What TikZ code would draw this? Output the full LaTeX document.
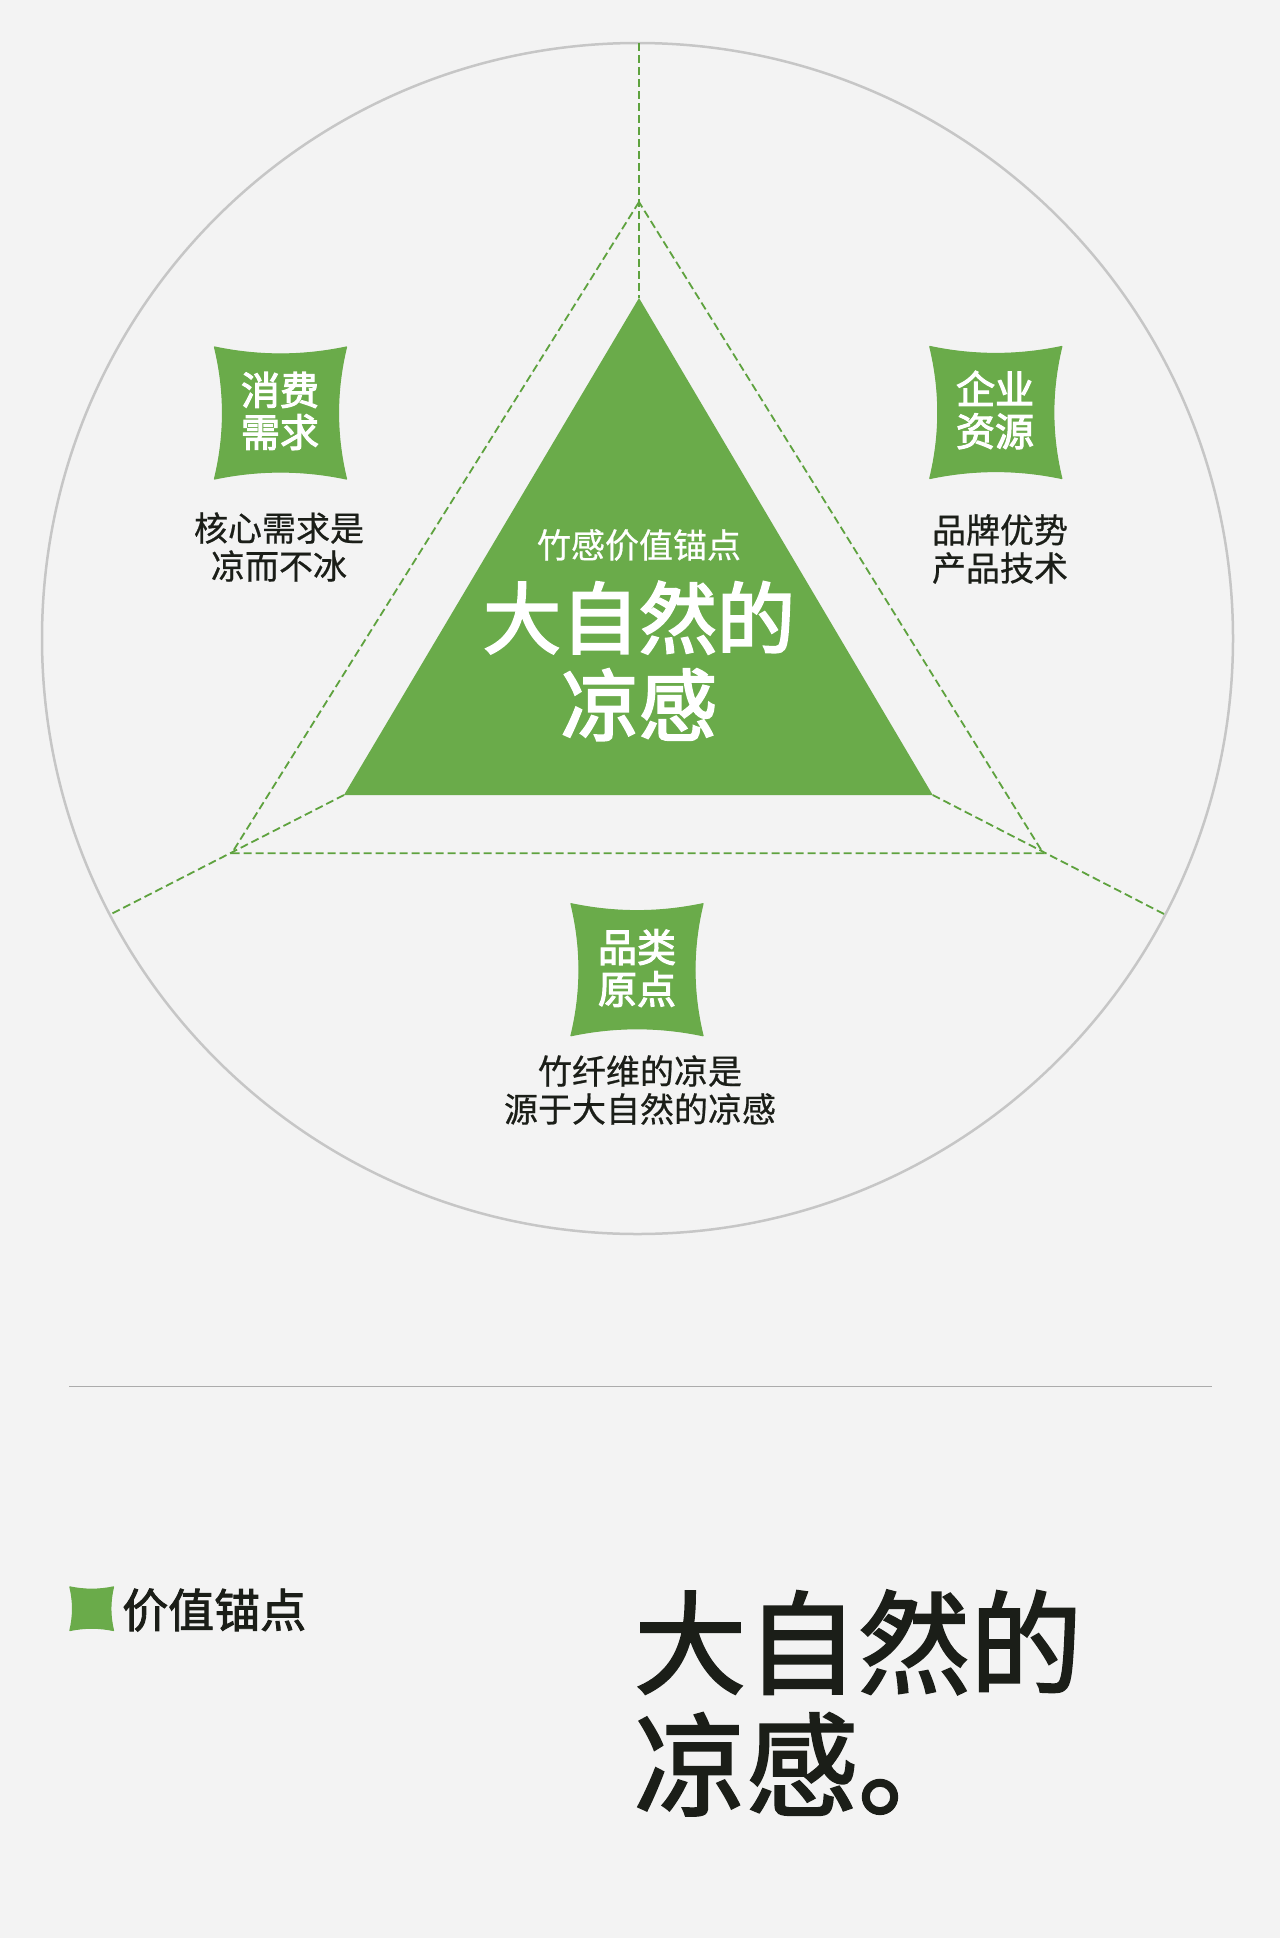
\documentclass[tikz,border=0pt]{standalone}
\usepackage{fontspec}
\setmainfont{Noto Sans CJK SC}
\newfontfamily\semib[FakeBold=2]{Noto Sans CJK SC}
\newfontfamily\semid[FakeBold=2.8]{Noto Sans CJK SC}
\newfontfamily\semic[FakeBold=0.6]{Noto Sans CJK SC}
\definecolor{bg}{HTML}{F3F3F3}
\definecolor{leaf}{HTML}{6AAB4A}
\definecolor{dashg}{HTML}{5EA23E}
\definecolor{ring}{HTML}{C6C6C6}
\definecolor{rule}{HTML}{ABABAB}
\definecolor{ink}{HTML}{1B1E18}
\tikzset{
  dline/.style={draw=dashg, line width=1.8pt, dash pattern=on 8pt off 4pt},
  badgetext/.style={text=white, font=\semid\fontsize{39}{42}\selectfont, align=center, inner sep=0pt},
  labeltext/.style={text=ink, font=\semic\fontsize{34}{38}\selectfont, align=center, inner sep=0pt},
}
\newcommand\cushion[3]{%
  \fill[leaf, draw=leaf, line width=1.2pt, line join=round, shift={(#1,#2)}, scale=#3]
    (-66,-66) .. controls (-22,-56.7) and (22,-56.7) .. (66,-66)
    .. controls (55.3,-22) and (55.3,22) .. (66,66)
    .. controls (22,56.7) and (-22,56.7) .. (-66,66)
    .. controls (-55.3,22) and (-55.3,-22) .. cycle;}
\begin{document}
\begin{tikzpicture}[x=1pt, y=-1pt]
  \fill[bg] (0,0) rectangle (1280,1938);
  \useasboundingbox (0,0) rectangle (1280,1938);

  % circle
  \coordinate (O) at (637.5,638.5);
  \draw[ring, line width=2.5pt] (O) circle[radius=595.5];

  % triangle points
  \coordinate (A) at (639,298);
  \coordinate (B) at (344,795);
  \coordinate (C) at (932.7,795);
  \coordinate (T) at (639,202);
  \coordinate (L) at (231.7,853.3);
  \coordinate (R) at (1043.3,853.3);
  \coordinate (Et) at (639,43);
  \coordinate (El) at (109.3,915);
  \coordinate (Er) at (1164,914);

  % dashed construction lines
  \draw[dline] (Et) -- (A);
  \draw[dline] (B) -- (El);
  \draw[dline] (C) -- (Er);
  \draw[dline] (T) -- (L) -- (R) -- cycle;

  % central triangle
  \fill[leaf] (A) -- (B) -- (C) -- cycle;
  \node[text=white, font=\semic\fontsize{34}{38}\selectfont, inner sep=0pt] (sub) at (639,545) {竹感价值锚点};
  \node[text=white, font=\semid\fontsize{78}{87}\selectfont, align=center, inner sep=0pt] (main) at (639,661) {大自然的\\凉感};

  % badges
  \cushion{280.5}{413}{1}
  \node[badgetext] (b1) at (280,411) {消费\\需求};
  \node[labeltext] (l1) at (279,547) {核心需求是\\凉而不冰};

  \cushion{995.8}{412.5}{1}
  \node[badgetext] (b2) at (995,410) {企业\\资源};
  \node[labeltext] (l2) at (1000,549) {品牌优势\\产品技术};

  \cushion{637}{969.7}{1}
  \node[badgetext] (b3) at (637,968) {品类\\原点};
  \node[labeltext] (l3) at (640,1090) {竹纤维的凉是\\源于大自然的凉感};

  % separator
  \coordinate (s1) at (69,1386.7);
  \coordinate (s2) at (1212,1386.7);
  \draw[rule, line width=1.5pt] (s1) -- (s2);

  % bottom tag
  \cushion{91.7}{1608.7}{0.33}
  \node[anchor=west, text=ink, font=\semib\fontsize{46}{50}\selectfont, inner sep=0pt] (tag) at (122,1610) {价值锚点};

  % big statement
  \node[anchor=west, text=ink, font=\semib\fontsize{112}{122}\selectfont, align=left, inner sep=0pt] (big) at (634,1703) {大自然的\\凉感。};
\end{tikzpicture}
\end{document}
